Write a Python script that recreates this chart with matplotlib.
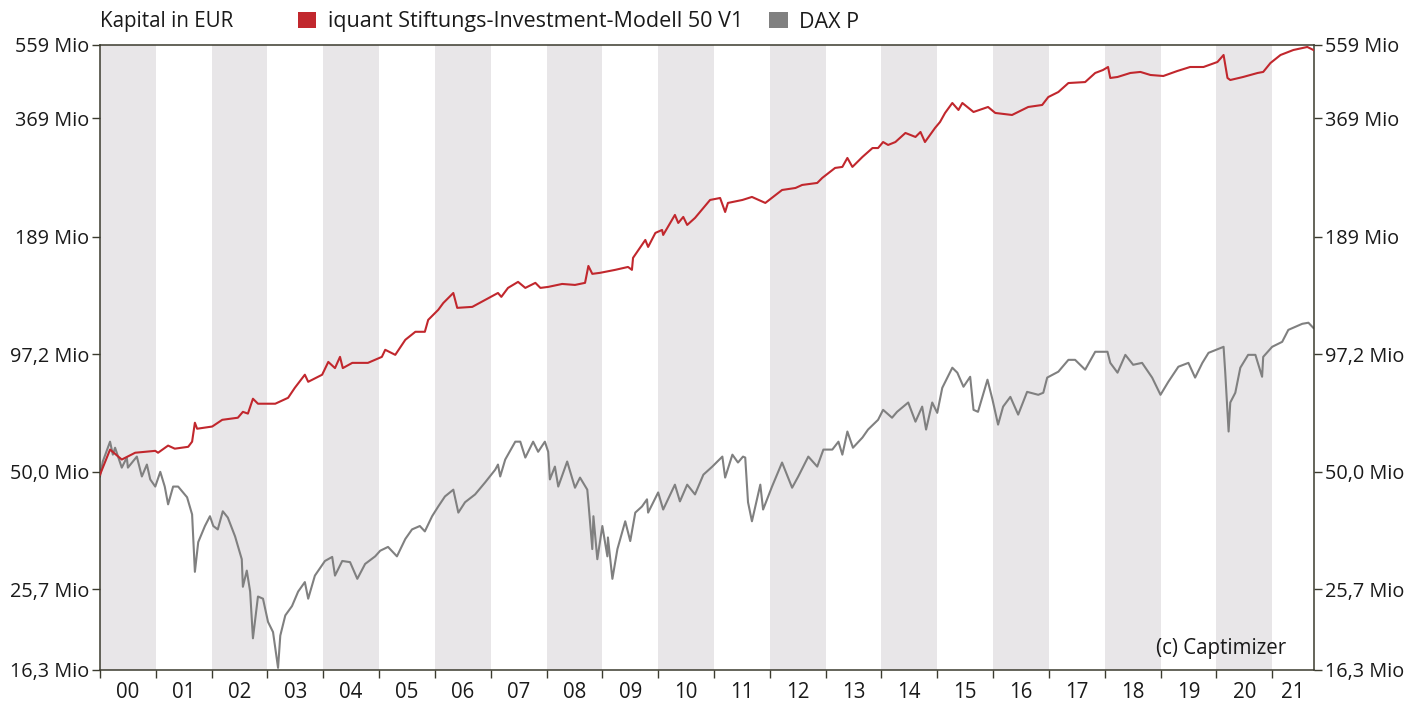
import matplotlib
matplotlib.use("Agg")
import matplotlib.pyplot as plt
from matplotlib.patches import Patch
from matplotlib.ticker import FixedFormatter, FixedLocator, NullFormatter, NullLocator

plt.rcParams["font.family"] = ["Open Sans", "DejaVu Sans"]

# --- data (Mio EUR) ---------------------------------------------------------
red_label = "iquant Stiftungs-Investment-Modell 50 V1"
red_t = [
    2000.00, 2000.18, 2000.39, 2000.63, 2000.99, 2001.04, 2001.22, 2001.34, 2001.58, 2001.65,
    2001.70, 2001.74, 2002.01, 2002.19, 2002.47, 2002.56, 2002.65, 2002.74, 2002.83, 2003.14,
    2003.37, 2003.49, 2003.67, 2003.73, 2003.98, 2004.09, 2004.21, 2004.30, 2004.35, 2004.52,
    2004.80, 2005.05, 2005.11, 2005.29, 2005.47, 2005.65, 2005.82, 2005.88, 2006.06, 2006.15,
    2006.33, 2006.40, 2006.67, 2006.90, 2007.13, 2007.19, 2007.31, 2007.49, 2007.62, 2007.80,
    2007.89, 2008.03, 2008.28, 2008.51, 2008.69, 2008.75, 2008.82, 2008.96, 2009.23, 2009.46,
    2009.53, 2009.55, 2009.77, 2009.82, 2009.95, 2010.07, 2010.09, 2010.30, 2010.36, 2010.45,
    2010.52, 2010.66, 2010.93, 2011.11, 2011.20, 2011.25, 2011.51, 2011.68, 2011.92, 2012.22,
    2012.46, 2012.58, 2012.85, 2012.94, 2013.17, 2013.30, 2013.39, 2013.48, 2013.66, 2013.84,
    2013.94, 2014.03, 2014.12, 2014.25, 2014.43, 2014.61, 2014.70, 2014.78, 2014.96, 2015.05,
    2015.14, 2015.27, 2015.38, 2015.45, 2015.54, 2015.65, 2015.91, 2016.04, 2016.34, 2016.52,
    2016.63, 2016.88, 2016.99, 2017.17, 2017.35, 2017.65, 2017.83, 2017.97, 2018.06, 2018.10,
    2018.23, 2018.46, 2018.64, 2018.82, 2019.05, 2019.30, 2019.53, 2019.77, 2020.02, 2020.13,
    2020.20, 2020.25, 2020.48, 2020.74, 2020.84, 2020.97, 2021.15, 2021.38, 2021.63, 2021.74,
]
red_v = [
    49.2, 56.7, 53.6, 55.7, 56.3, 55.7, 58.0, 57.0, 57.6, 59.3,
    66.0, 63.8, 64.6, 67.1, 67.9, 70.2, 69.5, 75.6, 73.5, 73.5,
    76.0, 80.4, 86.6, 83.2, 86.6, 93.1, 89.9, 95.8, 89.9, 92.6,
    92.6, 95.8, 99.7, 96.9, 105.5, 110.4, 110.4, 118.1, 125.0, 129.9,
    137.5, 126.4, 127.1, 132.2, 137.5, 134.5, 141.5, 146.4, 141.5, 145.6,
    141.5, 142.3, 144.7, 143.9, 145.6, 160.2, 153.2, 154.1, 156.7, 159.3,
    156.7, 167.7, 185.6, 178.4, 193.1, 196.4, 190.9, 213.8, 204.3, 211.4,
    202.0, 210.2, 232.7, 235.3, 217.4, 228.8, 232.7, 236.7, 228.8, 246.2,
    249.0, 253.3, 256.2, 263.6, 278.9, 280.5, 295.1, 280.5, 296.8, 312.1,
    312.1, 322.9, 317.6, 322.9, 339.9, 332.3, 341.8, 322.9, 349.6, 361.7,
    380.6, 402.7, 387.1, 402.7, 393.7, 382.7, 393.7, 380.6, 376.3, 387.1,
    393.7, 398.2, 416.5, 428.5, 450.8, 453.3, 477.2, 485.3, 493.6, 463.9,
    466.5, 477.2, 480.0, 471.8, 469.1, 482.5, 493.6, 493.6, 507.8, 528.3,
    463.9, 458.6, 466.5, 477.2, 480.0, 504.9, 528.3, 543.4, 552.8, 543.4,
]

dax_label = "DAX P"
dax_t = [
    2000.00, 2000.05, 2000.18, 2000.23, 2000.27, 2000.39, 2000.48, 2000.50, 2000.66, 2000.75,
    2000.84, 2000.90, 2000.99, 2001.08, 2001.16, 2001.22, 2001.31, 2001.40, 2001.56, 2001.65,
    2001.70, 2001.76, 2001.88, 2001.97, 2002.03, 2002.11, 2002.20, 2002.29, 2002.42, 2002.54,
    2002.56, 2002.63, 2002.69, 2002.74, 2002.83, 2002.92, 2003.01, 2003.10, 2003.19, 2003.23,
    2003.32, 2003.44, 2003.55, 2003.67, 2003.73, 2003.85, 2004.03, 2004.16, 2004.21, 2004.34,
    2004.48, 2004.61, 2004.75, 2004.93, 2005.02, 2005.16, 2005.32, 2005.47, 2005.59, 2005.73,
    2005.82, 2005.95, 2006.06, 2006.18, 2006.33, 2006.42, 2006.54, 2006.72, 2006.90, 2007.08,
    2007.13, 2007.17, 2007.26, 2007.44, 2007.53, 2007.62, 2007.76, 2007.85, 2007.97, 2008.03,
    2008.06, 2008.15, 2008.21, 2008.37, 2008.51, 2008.60, 2008.73, 2008.75, 2008.82, 2008.84,
    2008.91, 2009.00, 2009.09, 2009.10, 2009.18, 2009.27, 2009.41, 2009.50, 2009.59, 2009.71,
    2009.80, 2009.82, 2010.00, 2010.09, 2010.30, 2010.39, 2010.52, 2010.66, 2010.81, 2010.97,
    2011.15, 2011.20, 2011.33, 2011.43, 2011.52, 2011.56, 2011.61, 2011.68, 2011.83, 2011.88,
    2012.04, 2012.22, 2012.40, 2012.51, 2012.69, 2012.85, 2012.96, 2013.12, 2013.23, 2013.30,
    2013.39, 2013.49, 2013.66, 2013.76, 2013.94, 2014.03, 2014.19, 2014.28, 2014.48, 2014.61,
    2014.73, 2014.80, 2014.91, 2015.00, 2015.09, 2015.27, 2015.36, 2015.47, 2015.59, 2015.65,
    2015.73, 2015.90, 2015.99, 2016.09, 2016.18, 2016.31, 2016.45, 2016.61, 2016.81, 2016.90,
    2016.97, 2017.17, 2017.35, 2017.47, 2017.65, 2017.83, 2018.05, 2018.10, 2018.23, 2018.37,
    2018.51, 2018.67, 2018.85, 2019.00, 2019.14, 2019.32, 2019.50, 2019.62, 2019.75, 2019.86,
    2020.13, 2020.16, 2020.22, 2020.25, 2020.34, 2020.43, 2020.57, 2020.70, 2020.82, 2020.84,
    2021.00, 2021.18, 2021.29, 2021.54, 2021.65, 2021.74,
]
dax_v = [
    48.7, 53.0, 59.3, 55.1, 57.3, 51.2, 54.2, 51.2, 54.5, 48.7,
    52.1, 47.9, 46.0, 50.0, 46.0, 41.6, 46.0, 46.0, 43.3, 39.3,
    28.4, 33.6, 36.8, 38.9, 36.8, 36.1, 40.0, 38.6, 34.7, 30.5,
    26.1, 28.6, 25.4, 19.5, 24.7, 24.4, 21.4, 20.2, 16.5, 19.8,
    22.2, 23.4, 25.4, 26.8, 24.4, 27.8, 30.2, 30.9, 27.8, 30.2,
    30.0, 27.3, 29.7, 31.0, 32.0, 32.7, 31.0, 34.2, 36.1, 36.8,
    35.7, 38.9, 41.1, 43.5, 45.2, 39.7, 42.1, 44.0, 47.1, 50.6,
    52.1, 48.7, 53.6, 59.3, 59.3, 54.2, 59.3, 56.0, 59.3, 56.0,
    47.9, 51.5, 46.0, 53.0, 45.7, 48.4, 45.2, 42.1, 32.3, 38.9,
    30.5, 36.8, 31.0, 34.5, 27.3, 32.3, 37.8, 33.8, 39.7, 41.1,
    42.8, 39.7, 44.5, 40.4, 46.5, 42.3, 46.5, 44.0, 49.2, 51.5,
    54.5, 48.4, 55.1, 52.7, 54.5, 54.2, 42.1, 37.8, 46.5, 40.4,
    46.0, 52.7, 45.7, 48.7, 54.5, 51.5, 56.7, 56.7, 59.3, 55.1,
    62.8, 57.3, 60.7, 63.5, 67.1, 71.0, 67.9, 70.2, 74.0, 66.4,
    72.3, 63.5, 74.0, 69.8, 80.4, 90.1, 87.6, 80.9, 85.6, 71.0,
    70.2, 84.2, 75.2, 65.3, 72.3, 76.4, 69.1, 78.6, 77.3, 78.2,
    85.2, 88.1, 94.2, 94.2, 89.1, 98.6, 98.6, 92.6, 87.6, 96.9,
    91.6, 92.6, 85.2, 77.3, 83.2, 90.6, 92.6, 85.2, 92.6, 98.0,
    101.4, 87.6, 62.8, 74.0, 78.2, 90.1, 96.9, 96.9, 85.6, 95.8,
    101.4, 104.3, 111.6, 115.5, 116.2, 112.8,
]

y_ticks = [16.3, 25.7, 50.0, 97.2, 189, 369, 559]
y_labels = ["16,3 Mio", "25,7 Mio", "50,0 Mio", "97,2 Mio", "189 Mio", "369 Mio", "559 Mio"]
years = list(range(2000, 2022))
year_labels = [f"{y % 100:02d}" for y in years]
x_end = 2021.75

RED = "#c1272d"
GRAY = "#808080"
BAND = "#e8e6e8"
SPINE = "#3b3b2e"
TEXT = "#1a1a1a"
FS = 14.8
FS_TICK = 14.3
FS_LEGEND = 15.5

fig = plt.figure(figsize=(14.19, 7.02), dpi=100)
ax = fig.add_axes([100 / 1419, 32 / 702, 1214 / 1419, 625 / 702])

# alternating year bands (even years shaded)
for yr in years:
    if yr % 2 == 0:
        ax.axvspan(yr, min(yr + 1, x_end), color=BAND, lw=0, zorder=0)

ax.plot(dax_t, dax_v, color=GRAY, lw=1.5, zorder=2)
ax.plot(red_t, red_v, color=RED, lw=1.5, zorder=3)

ax.set_yscale("log")
ax.set_ylim(16.3, 559)
ax.set_xlim(2000, x_end)

ax.yaxis.set_major_locator(FixedLocator(y_ticks))
ax.yaxis.set_major_formatter(FixedFormatter(y_labels))
ax.yaxis.set_minor_locator(NullLocator())
ax.tick_params(axis="y", which="major", direction="out", length=6, width=1,
               color=SPINE, labelsize=FS_TICK, labelcolor=TEXT, pad=2,
               left=True, right=True, labelleft=True, labelright=True)

# year boundaries as ticks, labels centred in each (visible) year band
ax.xaxis.set_major_locator(FixedLocator(years))
ax.xaxis.set_major_formatter(NullFormatter())
label_pos = [min(y + 0.5, (y + x_end) / 2) for y in years]
ax.xaxis.set_minor_locator(FixedLocator(label_pos))
ax.xaxis.set_minor_formatter(FixedFormatter(year_labels))
ax.tick_params(axis="x", which="major", direction="out", length=6, width=1, color=SPINE)
ax.tick_params(axis="x", which="minor", length=0, labelsize=FS, labelcolor=TEXT, pad=9)

for sp in ax.spines.values():
    sp.set_color(SPINE)
    sp.set_linewidth(1.1)

ax.text(0.977, 0.035, "(c) Captimizer", transform=ax.transAxes, ha="right",
        va="center", fontsize=FS, color=TEXT)

fig.text(100 / 1419, 1 - 22 / 702, "Kapital in EUR", ha="left", va="center",
         fontsize=FS, color=TEXT)
handles = [Patch(facecolor=RED, edgecolor="none", label=red_label),
           Patch(facecolor=GRAY, edgecolor="none", label=dax_label)]
fig.legend(handles=handles, loc="center left", bbox_to_anchor=(298 / 1419, 1 - 22 / 702),
           ncol=2, frameon=False, fontsize=FS_LEGEND, handlelength=0.85, handleheight=0.75,
           handletextpad=0.55, columnspacing=1.2, borderpad=0, borderaxespad=0,
           labelcolor=TEXT)

fig.savefig("out.png", dpi=100)
